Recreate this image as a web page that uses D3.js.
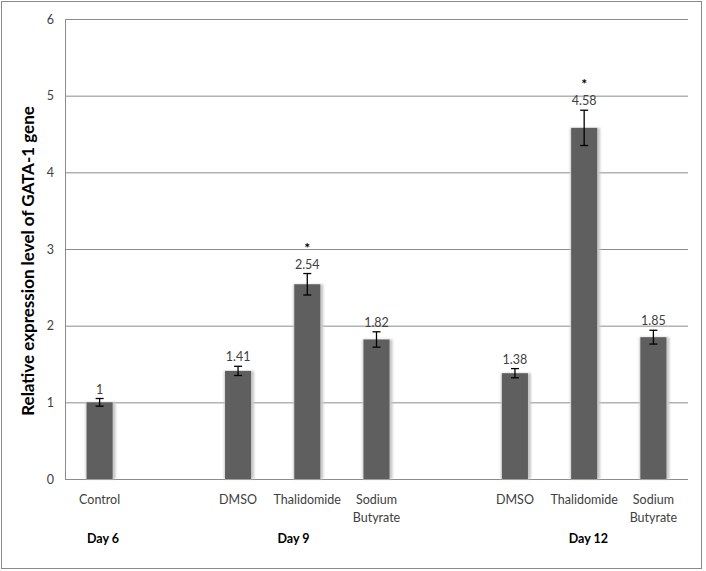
<!DOCTYPE html>
<html>
<head>
<meta charset="utf-8">
<script src="https://cdn.jsdelivr.net/npm/d3@7"></script>
<style>
  body { margin: 0; background: #fff; }
  svg text { font-family: Lato, "Open Sans", sans-serif; }
</style>
</head>
<body>
<div id="chart"></div>
<script>
// values
const labels = ["Control", "DMSO", "Thalidomide", "Sodium Butyrate", "DMSO", "Thalidomide", "Sodium Butyrate"];
const slots = [0, 2, 3, 4, 6, 7, 8];            // position among the 9 category slots
const values = [1.00, 1.41, 2.54, 1.82, 1.38, 4.58, 1.85];
const errors = [0.05, 0.06, 0.14, 0.10, 0.06, 0.23, 0.09];
const stars = [false, false, true, false, false, true, false];
const days = ["Day 6", "Day 9", "Day 12"];
const dayPos = [0.05, 2.8, 7.06];               // in slot units
const yTicks = [0, 1, 2, 3, 4, 5, 6];

const width = 706, height = 571;
const margin = {top: 19, right: 18, bottom: 92, left: 65};

const svg = d3.select("#chart")
  .append("svg")
  .attr("width", width)
  .attr("height", height);

// outer frame
svg.append("rect")
  .attr("x", 1.5).attr("y", 1.5)
  .attr("width", 700).attr("height", 567)
  .attr("fill", "none")
  .attr("stroke", "#8a8a8a");

const defs = svg.append("defs");
defs.append("filter").attr("id", "shadow")
  .attr("x", "-30%").attr("y", "-5%").attr("width", "160%").attr("height", "110%")
  .append("feGaussianBlur").attr("stdDeviation", 1.2);

const x = d3.scaleBand()
  .domain(d3.range(9))
  .range([margin.left, width - margin.right])
  .paddingInner(0.624)
  .paddingOuter(0.312);

const y = d3.scaleLinear()
  .domain([0, 6])
  .range([height - margin.bottom, margin.top]);

// slot units -> pixel centre
const slotX = d3.scaleLinear()
  .domain([-0.5, 8.5])
  .range([margin.left, width - margin.right]);

// gridlines + tick labels
const yAxis = svg.append("g")
  .attr("transform", `translate(${margin.left},0)`)
  .call(d3.axisLeft(y).tickValues(yTicks)
    .tickSizeInner(-(width - margin.left - margin.right))
    .tickSizeOuter(0)
    .tickPadding(11)
    .tickFormat(d3.format("d")));
yAxis.select(".domain").remove();
yAxis.selectAll(".tick line").attr("stroke", "#8c8c8c");
yAxis.selectAll(".tick text")
  .attr("font-size", "12.5px")
  .attr("fill", "#404040");

// left axis line
svg.append("line")
  .attr("x1", margin.left + 0.5).attr("x2", margin.left + 0.5)
  .attr("y1", y(6)).attr("y2", y(0))
  .attr("stroke", "#8c8c8c");

// axis title
svg.append("text")
  .attr("transform", `translate(34,${(y(0) + y(6)) / 2 + 12}) rotate(-90)`)
  .attr("text-anchor", "middle")
  .attr("font-size", "17px")
  .attr("font-weight", "bold")
  .attr("fill", "#000")
  .text("Relative expression level of GATA-1 gene");

const data = labels.map((l, i) => ({
  label: l, slot: slots[i], value: values[i], err: errors[i], star: stars[i]
}));

// bar shadows
svg.selectAll(".shadow")
  .data(data)
  .enter()
  .append("rect")
    .attr("class", "shadow")
    .attr("x", d => x(d.slot) - 1)
    .attr("y", d => y(d.value))
    .attr("width", x.bandwidth() + 4)
    .attr("height", d => y(0) - y(d.value))
    .attr("fill", "#c8c8c8")
    .attr("filter", "url(#shadow)");

// bars
svg.selectAll(".bar")
  .data(data)
  .enter()
  .append("rect")
    .attr("class", "bar")
    .attr("x", d => x(d.slot))
    .attr("y", d => y(d.value))
    .attr("width", x.bandwidth())
    .attr("height", d => y(0) - y(d.value))
    .attr("fill", "#5f5f5f");

// error bars
const eb = svg.selectAll(".err")
  .data(data)
  .enter()
  .append("g")
    .attr("class", "err")
    .attr("stroke", "#000")
    .attr("stroke-width", 1.3);
const cx = d => x(d.slot) + x.bandwidth() / 2;
eb.append("line")
  .attr("x1", cx).attr("x2", cx)
  .attr("y1", d => y(d.value + d.err)).attr("y2", d => y(d.value - d.err));
eb.append("line")
  .attr("x1", d => cx(d) - 4).attr("x2", d => cx(d) + 4)
  .attr("y1", d => y(d.value + d.err)).attr("y2", d => y(d.value + d.err));
eb.append("line")
  .attr("x1", d => cx(d) - 4).attr("x2", d => cx(d) + 4)
  .attr("y1", d => y(d.value - d.err)).attr("y2", d => y(d.value - d.err));

// value labels
svg.selectAll(".val")
  .data(data)
  .enter()
  .append("text")
    .attr("class", "val")
    .attr("x", cx)
    .attr("y", d => y(d.value + d.err) - 5)
    .attr("text-anchor", "middle")
    .attr("font-size", "12.5px")
    .attr("fill", "#404040")
    .text(d => d3.format("~g")(d.value));

// significance marks
svg.selectAll(".star")
  .data(data.filter(d => d.star))
  .enter()
  .append("text")
    .attr("class", "star")
    .attr("x", cx)
    .attr("y", d => y(d.value + d.err) - 21)
    .attr("text-anchor", "middle")
    .attr("font-size", "14px")
    .attr("font-weight", "bold")
    .attr("fill", "#000")
    .text("*");

// category labels
svg.selectAll(".cat")
  .data(data)
  .enter()
  .append("text")
    .attr("class", "cat")
    .attr("x", cx)
    .attr("y", 504)
    .attr("text-anchor", "middle")
    .attr("font-size", "12.5px")
    .attr("fill", "#404040")
    .selectAll("tspan")
    .data(d => d.label.split(" "))
    .enter()
    .append("tspan")
      .attr("x", function() { return d3.select(this.parentNode).attr("x"); })
      .attr("dy", (d, i) => i === 0 ? 0 : 18)
      .text(d => d);

// day labels
svg.selectAll(".day")
  .data(days)
  .enter()
  .append("text")
    .attr("class", "day")
    .attr("x", (d, i) => slotX(dayPos[i]))
    .attr("y", 543)
    .attr("text-anchor", "middle")
    .attr("font-size", "12.5px")
    .attr("font-weight", "bold")
    .attr("fill", "#000")
    .text(d => d);
</script>
</body>
</html>
